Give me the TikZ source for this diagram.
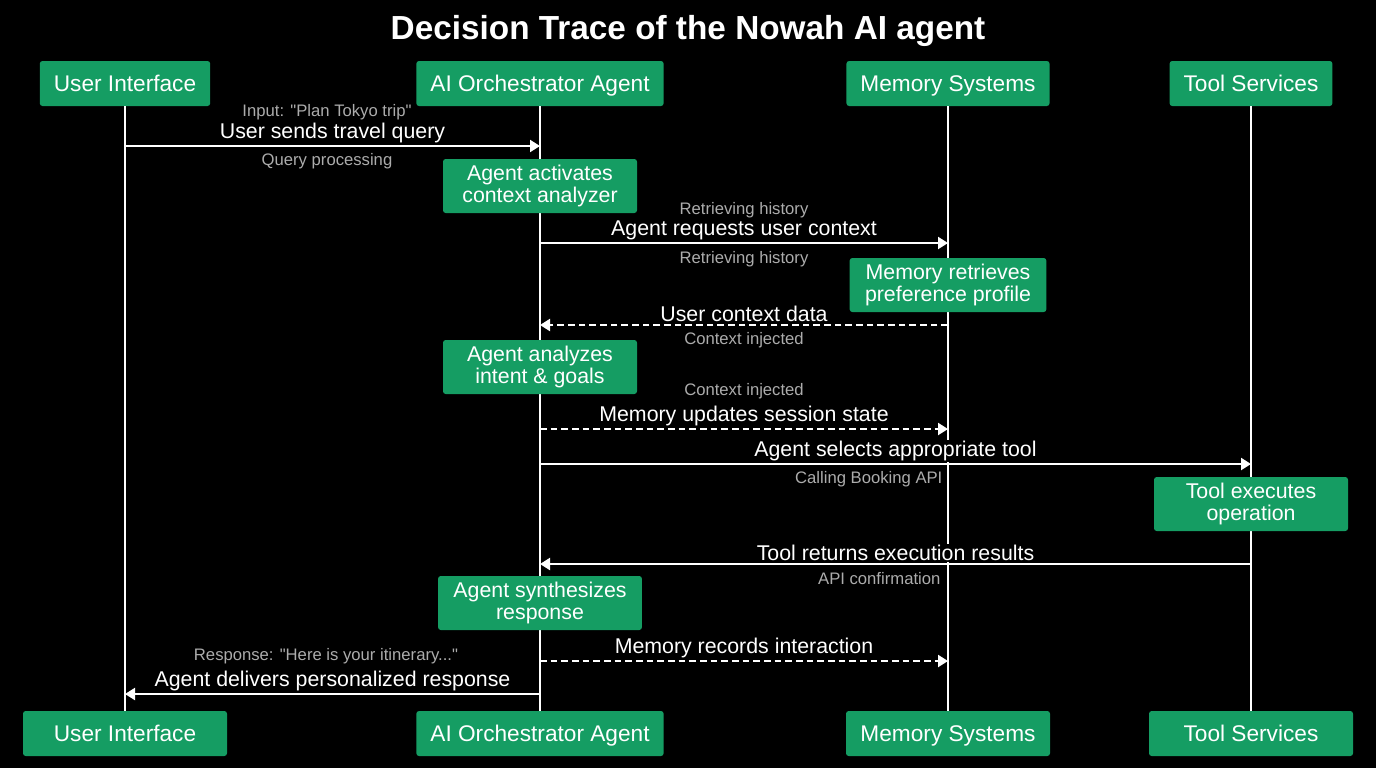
\documentclass[tikz,border=0pt]{standalone}
\usepackage{fontspec}
\setmainfont{Liberation Sans}
\usetikzlibrary{arrows.meta}
\definecolor{nowahgreen}{RGB}{21,157,99}
\definecolor{notegrey}{RGB}{172,172,172}
\tikzset{%
  actor/.style    = {shape=rectangle, rounded corners=2pt, fill=nowahgreen,%
                     text=white, font=\fontsize{17}{20}\selectfont,%
                     text height=14pt, text depth=2pt,%
                     minimum height=33.75pt, inner xsep=10.5pt},%
  actorbot/.style = {actor, minimum width=153pt},%
  activity/.style = {shape=rectangle, rounded corners=2pt, fill=nowahgreen,%
                     text=white, align=center, font=\fontsize{16}{16.5}\selectfont,%
                     minimum height=40.5pt, minimum width=145.5pt, inner xsep=11.5pt},%
  msg/.style      = {fill=black, text=white, inner sep=1pt, font=\fontsize{16}{18}\selectfont},%
  note/.style     = {fill=black, text=notegrey, inner sep=1pt, font=\fontsize{12.5}{14}\selectfont},%
  lifeline/.style = {draw=white, line width=1.6pt},%
  call/.style     = {draw=white, line width=1.6pt, -{Triangle[length=7.5pt,width=9pt]}},%
  reply/.style    = {call, dash pattern=on 5pt off 3pt}%
}
\begin{document}
\begin{tikzpicture}[x=0.75pt, y=-0.75pt]
	\fill[black] (0,0) rectangle (1376,768);
	\node [text=white, font=\bfseries\fontsize{25}{28}\selectfont] (title) at (688,31)
		{Decision Trace of the Nowah AI agent};
	% participants
	\node [actor] (ui-top)   at (125,83.5)  {User Interface};
	\node [actor] (orch-top) at (540,83.5)  {AI Orchestrator Agent};
	\node [actor] (mem-top)  at (948,83.5)  {Memory Systems};
	\node [actor] (tool-top) at (1251,83.5) {Tool Services};
	\node [actorbot] (ui-bot)   at (125,733.5)  {User Interface};
	\node [actorbot] (orch-bot) at (540,733.5)  {AI Orchestrator Agent};
	\node [actorbot] (mem-bot)  at (948,733.5)  {Memory Systems};
	\node [actorbot] (tool-bot) at (1251,733.5) {Tool Services};
	\foreach \p in {ui,orch,mem,tool}
		\draw [lifeline] (\p-top) -- (\p-bot);
	% message end points
	\coordinate (ui-m1)   at (ui-top |- 0,146);
	\coordinate (orch-m1) at (orch-top |- 0,146);
	\coordinate (orch-m2) at (orch-top |- 0,243);
	\coordinate (mem-m2)  at (mem-top |- 0,243);
	\coordinate (mem-m3)  at (mem-top |- 0,325);
	\coordinate (orch-m3) at (orch-top |- 0,325);
	\coordinate (orch-m4) at (orch-top |- 0,429);
	\coordinate (mem-m4)  at (mem-top |- 0,429);
	\coordinate (orch-m5) at (orch-top |- 0,464);
	\coordinate (tool-m5) at (tool-top |- 0,464);
	\coordinate (tool-m6) at (tool-top |- 0,564);
	\coordinate (orch-m6) at (orch-top |- 0,564);
	\coordinate (orch-m7) at (orch-top |- 0,661);
	\coordinate (mem-m7)  at (mem-top |- 0,661);
	\coordinate (orch-m8) at (orch-top |- 0,694);
	\coordinate (ui-m8)   at (ui-top |- 0,694);
	% activities
	\node [activity] (act-ctx)    at (540,186)  {Agent activates\\context analyzer};
	\node [activity] (act-mem)    at (948,285)  {Memory retrieves\\preference profile};
	\node [activity] (act-intent) at (540,367)  {Agent analyzes\\intent \& goals};
	\node [activity] (act-tool)   at (1251,504) {Tool executes\\operation};
	\node [activity] (act-synth)  at (540,603)  {Agent synthesizes\\response};
	% messages
	\draw [call]  (ui-m1) -- node [msg, above=0.5pt] (lbl-1) {User sends travel query} (orch-m1);
	\draw [call]  (orch-m2) -- node [msg, above=0.5pt] (lbl-2) {Agent requests user context} (mem-m2);
	\draw [reply] (mem-m3) -- node [msg, above=0.5pt] (lbl-3) {User context data} (orch-m3);
	\draw [reply] (orch-m4) -- node [msg, above=0.5pt] (lbl-4) {Memory updates session state} (mem-m4);
	\draw [call]  (orch-m5) -- node [msg, above=0.5pt] (lbl-5) {Agent selects appropriate tool} (tool-m5);
	\draw [call]  (tool-m6) -- node [msg, above=0.5pt] (lbl-6) {Tool returns execution results} (orch-m6);
	\draw [reply] (orch-m7) -- node [msg, above=0.5pt] (lbl-7) {Memory records interaction} (mem-m7);
	\draw [call]  (orch-m8) -- node [msg, above=0.5pt] (lbl-8) {Agent delivers personalized response} (ui-m8);
	% side notes
	\node [note] (note-input)  at (327,112) {Input: \textquotedbl Plan Tokyo trip\textquotedbl};
	\node [note] (note-query)  at (327,161) {Query processing};
	\node [note] (note-hist-a) at (744,210) {Retrieving history};
	\node [note] (note-hist-b) at (744,259) {Retrieving history};
	\node [note] (note-inj-a)  at (744,340) {Context injected};
	\node [note] (note-inj-b)  at (744,391) {Context injected};
	\node [note, anchor=east] (note-api)  at (944,479) {Calling Booking API};
	\node [note, anchor=east] (note-conf) at (942,579) {API confirmation};
	\node [note] (note-resp)   at (326,656) {Response: \textquotedbl Here is your itinerary...\textquotedbl};
\end{tikzpicture}
\end{document}
